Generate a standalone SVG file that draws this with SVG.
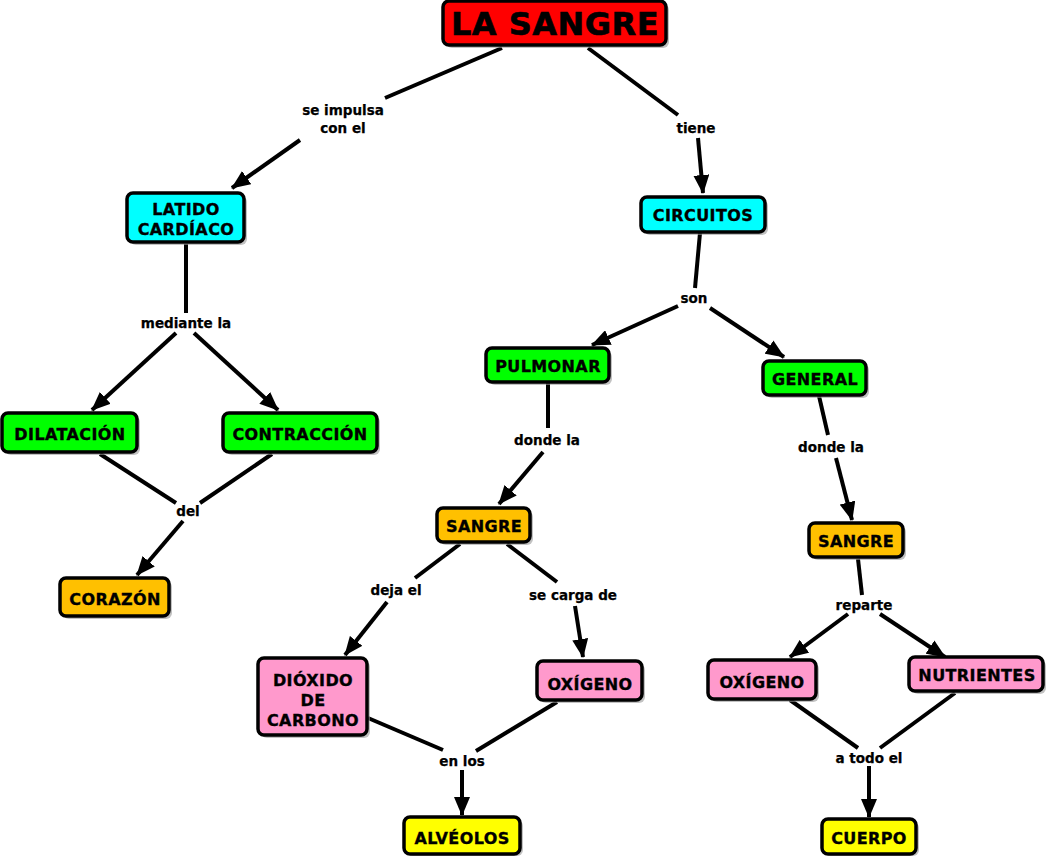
<svg xmlns="http://www.w3.org/2000/svg" width="1048" height="856" viewBox="0 0 1048 856">
<defs>
<marker id="ah" markerUnits="userSpaceOnUse" markerWidth="20" markerHeight="16" refX="18" refY="8" orient="auto">
<path d="M0,0 L19,8 L0,16 z" fill="#000"/>
</marker>
<style>
.n rect.b{stroke:#000;stroke-width:3.5}
.n rect.s{fill:#9a9a9a;opacity:0.6}
.n text{font-family:"DejaVu Sans",Verdana,sans-serif;font-weight:bold;font-size:16px;letter-spacing:0.4px;text-anchor:middle;fill:#000;stroke:#000;stroke-width:0.35}
.l{font-family:"DejaVu Sans",Verdana,sans-serif;font-weight:bold;font-size:13.5px;text-anchor:middle;fill:#000;stroke:#000;stroke-width:0.25}
#conn line{stroke:#000;stroke-width:4}
#conn line.a{marker-end:url(#ah)}
.red{fill:#ff0000}.cy{fill:#00ffff}.gr{fill:#00ff00}.or{fill:#ffc000}.pk{fill:#ff99cc}.ye{fill:#ffff00}
</style>
</defs>
<rect width="1048" height="856" fill="#fff"/>
<g id="conn">
<line x1="502" y1="48" x2="385" y2="98"/>
<line class="a" x1="300" y1="140" x2="232" y2="188"/>
<line x1="588" y1="48" x2="678" y2="115"/>
<line class="a" x1="698" y1="138" x2="703" y2="193"/>
<line x1="186" y1="244" x2="186" y2="313"/>
<line class="a" x1="176" y1="333" x2="92" y2="410"/>
<line class="a" x1="194" y1="333" x2="278" y2="410"/>
<line x1="100" y1="454" x2="176" y2="503"/>
<line x1="272" y1="454" x2="200" y2="503"/>
<line class="a" x1="183" y1="521" x2="137" y2="575"/>
<line x1="700" y1="233" x2="695" y2="288"/>
<line class="a" x1="678" y1="306" x2="592" y2="345"/>
<line class="a" x1="710" y1="308" x2="784" y2="357"/>
<line x1="548" y1="383" x2="548" y2="428"/>
<line class="a" x1="543" y1="452" x2="499" y2="504"/>
<line x1="819" y1="396" x2="828" y2="435"/>
<line class="a" x1="836" y1="458" x2="852" y2="520"/>
<line x1="460" y1="544" x2="415" y2="578"/>
<line class="a" x1="387" y1="602" x2="345" y2="655"/>
<line x1="507" y1="544" x2="557" y2="582"/>
<line class="a" x1="575" y1="606" x2="583" y2="657"/>
<line x1="368" y1="718" x2="443" y2="750"/>
<line x1="557" y1="702" x2="476" y2="751"/>
<line class="a" x1="462" y1="770" x2="462" y2="815"/>
<line x1="858" y1="559" x2="862" y2="595"/>
<line class="a" x1="848" y1="614" x2="790" y2="657"/>
<line class="a" x1="880" y1="614" x2="945" y2="657"/>
<line x1="790" y1="700" x2="858" y2="748"/>
<line x1="955" y1="693" x2="880" y2="748"/>
<line class="a" x1="869" y1="766" x2="869" y2="817"/>
</g>
<g id="labels">
<text class="l" x="343" y="115">se impulsa</text>
<text class="l" x="343" y="133">con el</text>
<text class="l" x="696" y="133">tiene</text>
<text class="l" x="186" y="328">mediante la</text>
<text class="l" x="188" y="516">del</text>
<text class="l" x="694" y="303">son</text>
<text class="l" x="547" y="445">donde la</text>
<text class="l" x="831" y="452">donde la</text>
<text class="l" x="396" y="595">deja el</text>
<text class="l" x="573" y="600">se carga de</text>
<text class="l" x="462" y="766">en los</text>
<text class="l" x="864" y="610">reparte</text>
<text class="l" x="869" y="763">a todo el</text>
</g>
<g id="n-lasangre" class="n"><rect class="s" x="446" y="4" width="223" height="44" rx="6"/><rect class="b red" x="443" y="1" width="223" height="44" rx="6"/><text x="555" y="35" style="font-size:32px;letter-spacing:0.5px;stroke-width:0.6">LA SANGRE</text></g>
<g id="n-latido" class="n"><rect class="s" x="130" y="196" width="117" height="49" rx="6"/><rect class="b cy" x="127" y="193" width="117" height="49" rx="6"/><text x="186" y="215">LATIDO</text><text x="186" y="235">CARDÍACO</text></g>
<g id="n-dilatacion" class="n"><rect class="s" x="5" y="416" width="135" height="39" rx="6"/><rect class="b gr" x="2" y="413" width="135" height="39" rx="6"/><text x="70" y="440">DILATACIÓN</text></g>
<g id="n-contraccion" class="n"><rect class="s" x="226" y="416" width="154" height="39" rx="6"/><rect class="b gr" x="223" y="413" width="154" height="39" rx="6"/><text x="300" y="440">CONTRACCIÓN</text></g>
<g id="n-corazon" class="n"><rect class="s" x="63" y="581" width="109" height="38" rx="6"/><rect class="b or" x="60" y="578" width="109" height="38" rx="6"/><text x="115" y="605">CORAZÓN</text></g>
<g id="n-circuitos" class="n"><rect class="s" x="644" y="200" width="124" height="35" rx="6"/><rect class="b cy" x="641" y="197" width="124" height="35" rx="6"/><text x="703" y="221">CIRCUITOS</text></g>
<g id="n-pulmonar" class="n"><rect class="s" x="489" y="351" width="123" height="34" rx="6"/><rect class="b gr" x="486" y="348" width="123" height="34" rx="6"/><text x="548" y="372">PULMONAR</text></g>
<g id="n-general" class="n"><rect class="s" x="766" y="364" width="103" height="34" rx="6"/><rect class="b gr" x="763" y="361" width="103" height="34" rx="6"/><text x="815" y="385">GENERAL</text></g>
<g id="n-sangre1" class="n"><rect class="s" x="440" y="511" width="93" height="34" rx="6"/><rect class="b or" x="437" y="508" width="93" height="34" rx="6"/><text x="484" y="532">SANGRE</text></g>
<g id="n-sangre2" class="n"><rect class="s" x="812" y="526" width="94" height="34" rx="6"/><rect class="b or" x="809" y="523" width="94" height="34" rx="6"/><text x="856" y="547">SANGRE</text></g>
<g id="n-dioxido" class="n"><rect class="s" x="261" y="661" width="109" height="77" rx="6"/><rect class="b pk" x="258" y="658" width="109" height="77" rx="6"/><text x="313" y="686">DIÓXIDO</text><text x="313" y="706">DE</text><text x="313" y="726">CARBONO</text></g>
<g id="n-oxigeno1" class="n"><rect class="s" x="540" y="664" width="105" height="39" rx="6"/><rect class="b pk" x="537" y="661" width="105" height="39" rx="6"/><text x="590" y="690">OXÍGENO</text></g>
<g id="n-oxigeno2" class="n"><rect class="s" x="711" y="663" width="108" height="39" rx="6"/><rect class="b pk" x="708" y="660" width="108" height="39" rx="6"/><text x="762" y="688">OXÍGENO</text></g>
<g id="n-nutrientes" class="n"><rect class="s" x="912" y="660" width="134" height="34" rx="6"/><rect class="b pk" x="909" y="657" width="134" height="34" rx="6"/><text x="977" y="681">NUTRIENTES</text></g>
<g id="n-alveolos" class="n"><rect class="s" x="407" y="820" width="116" height="36" rx="6"/><rect class="b ye" x="404" y="817" width="116" height="37" rx="6"/><text x="462" y="844">ALVÉOLOS</text></g>
<g id="n-cuerpo" class="n"><rect class="s" x="825" y="822" width="94" height="34" rx="6"/><rect class="b ye" x="822" y="819" width="94" height="35" rx="6"/><text x="869" y="844">CUERPO</text></g>
</svg>
